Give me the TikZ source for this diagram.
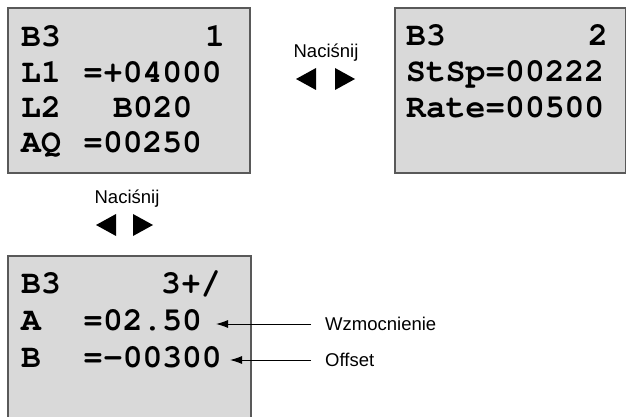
\documentclass[tikz,border=0pt]{standalone}
\usepackage[T1]{fontenc}
\usepackage{fontspec}
\setmainfont{Liberation Sans}
\usetikzlibrary{arrows.meta, positioning}

\definecolor{lcdgray}{HTML}{D9D9D9}
\definecolor{framegray}{HTML}{595959}
\newcommand{\lcdfont}{\fontencoding{T1}\fontfamily{pcr}\fontseries{b}\fontshape{n}%
  \fontsize{33}{33}\selectfont}

\begin{document}
\begin{tikzpicture}[
      x=1pt, y=-1pt,
      lcd/.style={draw=framegray, line width=1.6pt, fill=lcdgray},
      row/.style={anchor=base west, inner sep=0pt, font=\lcdfont},
      rowr/.style={row, anchor=base east},
      hint/.style={anchor=base, inner sep=0pt, font=\fontsize{18.5}{20}\selectfont},
      note/.style={anchor=west, inner sep=0pt, font=\fontsize{18.5}{20}\selectfont},
      key/.style={fill=black},
      callout/.style={draw, line width=1pt, -{Latex[length=12pt, width=8pt]}}
  ]
      \useasboundingbox (0,0) rectangle (627,417);

      % display frames
      \draw [lcd] (8,8) rectangle (250,173);
      \draw [lcd] (395,8) rectangle (625.5,173);
      \draw [lcd] (8,256) rectangle (251,430);

      % screen 1
      \node (s1b)  [row]  at (21,47)   {B3};
      \node (s1n)  [rowr] at (225,47)  {1};
      \node (s1l1) [row]  at (21,83)   {L1};
      \node (s1v1) [row]  at (83,83)   {=+04000};
      \node (s1l2) [row]  at (21,118)  {L2};
      \node (s1v2) [row]  at (113,118) {B020};
      \node (s1aq) [row]  at (21,153)  {AQ};
      \node (s1v3) [row]  at (83,153)  {=00250};

      % screen 2
      \node (s2b)  [row]  at (406,46)  {B3};
      \node (s2n)  [rowr] at (608,46)  {2};
      \node (s2v1) [row]  at (406,82)  {StSp=00222};
      \node (s2v2) [row]  at (406,118) {Rate=00500};

      % screen 3
      \node (s3b)  [row]  at (21,293)  {B3};
      \node (s3n)  [row]  at (161,293) {3+/};
      \node (s3a)  [row]  at (21,330)  {A};
      \node (s3va) [row]  at (83,330)  {=02.50};
      \node (s3bb) [row]  at (21,367)  {B};
      \node (s3vb) [row]  at (83,367)  {=-00300};

      % key hints
      \node (press1) [hint] at (326,58)  {Naciśnij};
      \fill [key] (296,79) -- (316,68) -- (316,90) -- cycle;
      \fill [key] (355,79) -- (335,68) -- (335,90) -- cycle;

      \node (press2) [hint] at (127,204) {Naciśnij};
      \fill [key] (96,225) -- (116,214) -- (116,236) -- cycle;
      \fill [key] (153,225) -- (133,214) -- (133,236) -- cycle;

      % parameter notes
      \node (gain)   [note] at (325,324) {Wzmocnienie};
      \node (offset) [note] at (325,360) {Offset};
      \coordinate (gaintip)   at (216,324);
      \coordinate (offsettip) at (230,360);
      \draw [callout] ([xshift=-14pt]gain.west) -- (gaintip);
      \draw [callout] ([xshift=-14pt]offset.west) -- (offsettip);
  \end{tikzpicture}
\end{document}
